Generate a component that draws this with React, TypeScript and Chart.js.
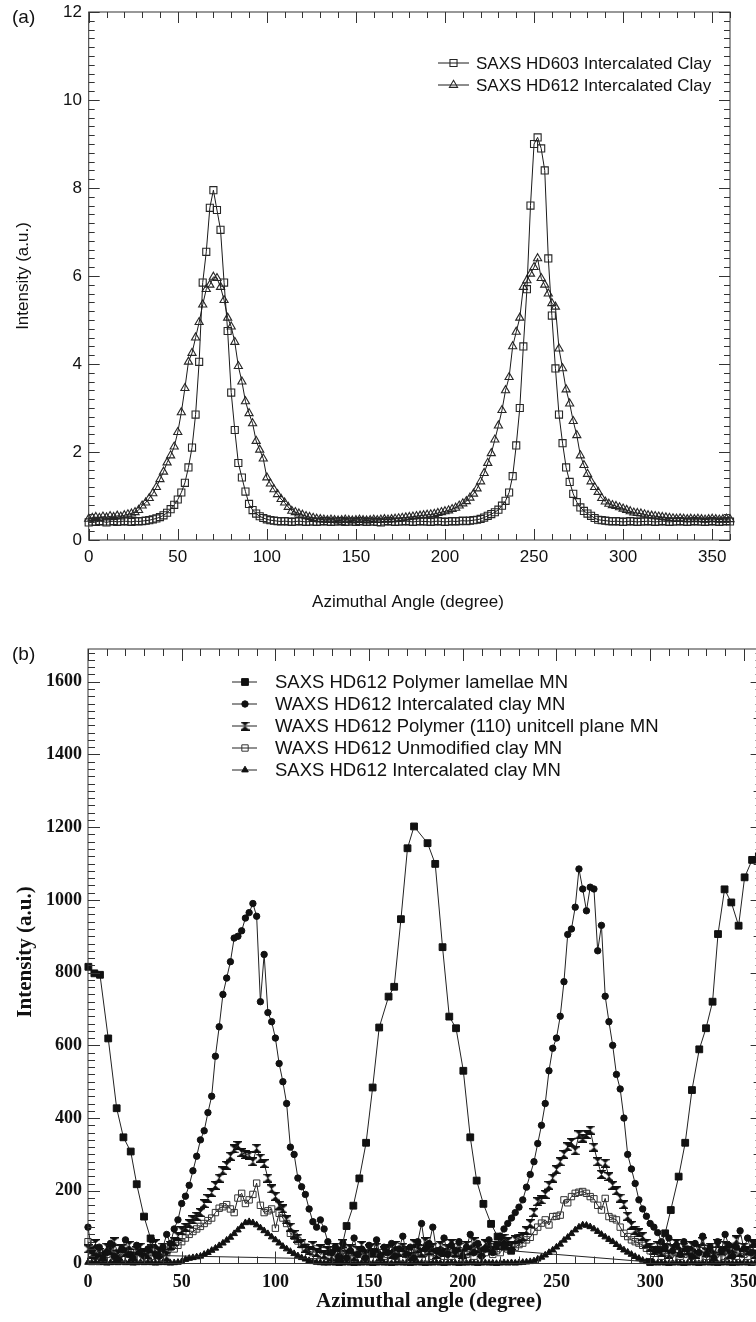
import React, { useEffect, useRef } from 'react';
import { Chart, registerables } from 'chart.js';

Chart.register(...registerables);

// ---------------- DATA ----------------
// Sampled azimuthal angles (degree) for the dense scans
const ANGLES = [0,2,4,6,8,10,12,14,16,18,20,22,24,26,28,30,32,34,36,38,40,42,44,46,48,50,52,54,56,58,60,62,64,66,68,70,72,74,76,78,80,82,84,86,88,90,92,94,96,98,100,102,104,106,108,110,112,114,116,118,120,122,124,126,128,130,132,134,136,138,140,142,144,146,148,150,152,154,156,158,160,162,164,166,168,170,172,174,176,178,180,182,184,186,188,190,192,194,196,198,200,202,204,206,208,210,212,214,216,218,220,222,224,226,228,230,232,234,236,238,240,242,244,246,248,250,252,254,256,258,260,262,264,266,268,270,272,274,276,278,280,282,284,286,288,290,292,294,296,298,300,302,304,306,308,310,312,314,316,318,320,322,324,326,328,330,332,334,336,338,340,342,344,346,348,350,352,354,356,358,360];

// (a) SAXS HD603 Intercalated Clay
const A_HD603 = [
  0.40,0.42,0.41,0.43,0.42,0.40,0.42,0.43,0.41,0.42,0.43,0.42,0.41,0.43,0.42,0.43,
  0.44,0.45,0.47,0.49,0.52,0.56,0.62,0.70,0.80,0.92,1.08,1.30,1.65,2.10,2.85,4.05,
  5.85,6.55,7.55,7.95,7.50,7.05,5.85,4.75,3.35,2.50,1.75,1.42,1.10,0.82,0.68,0.60,
  0.54,0.50,0.47,0.45,0.44,0.43,0.42,0.43,0.42,0.41,0.42,0.43,0.42,0.41,0.42,0.42,
  0.41,0.42,0.43,0.42,0.41,0.42,0.42,0.43,0.41,0.42,0.42,0.41,0.43,0.42,0.41,0.42,
  0.42,0.41,0.40,0.42,0.43,0.42,0.41,0.42,0.42,0.43,0.42,0.41,0.42,0.43,0.42,0.42,
  0.41,0.42,0.43,0.42,0.41,0.42,0.43,0.42,0.43,0.44,0.43,0.44,0.45,0.46,0.48,0.51,
  0.55,0.59,0.63,0.69,0.78,0.89,1.08,1.45,2.15,3.00,4.40,5.70,7.60,9.00,9.15,8.90,
  8.40,6.40,5.10,3.90,2.85,2.20,1.65,1.32,1.05,0.86,0.74,0.66,0.60,0.55,0.50,0.46,
  0.45,0.44,0.43,0.42,0.43,0.42,0.41,0.42,0.43,0.42,0.41,0.42,0.42,0.43,0.42,0.41,
  0.42,0.43,0.42,0.41,0.42,0.42,0.43,0.42,0.41,0.42,0.43,0.42,0.42,0.41,0.42,0.43,
  0.42,0.41,0.42,0.43,0.42,
];

// (a) SAXS HD612 Intercalated Clay
const A_HD612 = [
  0.48,0.50,0.52,0.50,0.53,0.51,0.54,0.52,0.55,0.53,0.56,0.58,0.60,0.63,0.68,0.78,
  0.85,0.95,1.06,1.20,1.38,1.55,1.76,1.92,2.12,2.45,2.90,3.45,4.05,4.25,4.60,4.95,
  5.35,5.70,5.80,5.98,5.95,5.75,5.45,5.05,4.85,4.50,3.95,3.60,3.15,2.88,2.65,2.25,
  2.05,1.85,1.42,1.28,1.15,1.04,0.93,0.85,0.75,0.66,0.63,0.60,0.57,0.54,0.52,0.50,
  0.48,0.47,0.46,0.45,0.46,0.45,0.44,0.45,0.46,0.45,0.44,0.45,0.46,0.45,0.44,0.45,
  0.46,0.45,0.46,0.47,0.46,0.47,0.48,0.49,0.50,0.51,0.52,0.53,0.54,0.55,0.56,0.57,
  0.58,0.59,0.61,0.63,0.65,0.67,0.70,0.73,0.78,0.83,0.88,0.96,1.05,1.17,1.33,1.52,
  1.75,1.97,2.28,2.60,2.95,3.40,3.70,4.40,4.73,5.05,5.75,5.90,6.05,6.20,6.40,5.95,
  5.80,5.60,5.38,5.30,4.35,3.90,3.42,3.10,2.70,2.38,1.92,1.70,1.50,1.33,1.20,1.09,
  0.95,0.87,0.82,0.79,0.77,0.74,0.71,0.68,0.65,0.62,0.61,0.60,0.58,0.56,0.55,0.54,
  0.53,0.52,0.51,0.50,0.49,0.48,0.49,0.48,0.47,0.48,0.47,0.48,0.47,0.46,0.47,0.48,
  0.47,0.46,0.47,0.48,0.47,
];

// (b) SAXS HD612 Polymer lamellae MN (sparse scan)
const B_LAMELLAE_ANGLE = [0.2,3.4,6.4,10.8,15.3,18.9,22.8,26,29.9,33.4,37,134,138,141.6,144.8,148.4,151.9,155.4,160.4,163.4,167,170.5,174,181.2,185.3,189.2,192.8,196.4,200.3,204,207.4,211,215.1,218.6,222.2,225.8,300,304.4,308,311,315.2,318.7,322.3,326.2,329.8,333.3,336.2,339.7,343.3,347.2,350.4,354.4,358];
const B_LAMELLAE = [816,798,794,619,427,347,308,218,129,69,22,12,103,159,234,332,484,649,734,761,947,1142,1202,1156,1099,870,679,647,530,347,228,164,109,74,48,35,4,38,83,147,239,332,477,589,647,720,906,1029,993,929,1062,1110,1120];

// (b) WAXS HD612 Intercalated clay MN
const B_WAXS_CLAY = [
  100,35,20,45,15,30,55,20,10,40,65,25,15,50,30,20,
  40,65,25,20,45,80,55,95,120,165,185,215,255,295,340,365,
  415,460,570,651,740,785,830,895,900,915,950,965,990,955,720,850,
  690,665,620,550,500,440,320,300,235,211,190,150,115,100,120,95,
  60,30,45,20,55,15,35,70,25,40,15,50,30,65,20,45,
  30,55,20,40,75,25,45,15,60,110,40,55,100,35,30,70,
  25,50,35,60,20,45,80,30,55,20,40,65,30,50,75,95,
  110,125,140,155,175,210,245,280,330,380,440,530,592,620,680,775,
  905,920,980,1085,1030,970,1035,1030,860,930,735,665,600,520,480,400,
  300,260,220,175,150,130,110,100,85,60,45,70,35,50,25,60,
  40,20,55,30,75,25,45,15,60,35,80,50,20,45,90,40,
  70,30,55,25,60,
];

// (b) WAXS HD612 Polymer (110) unitcell plane MN
const B_WAXS_110 = [
  40,25,55,30,20,45,35,60,25,40,30,50,20,35,45,30,
  25,40,55,30,45,20,50,60,75,90,100,110,120,130,140,165,
  179,195,215,235,255,270,295,315,325,305,300,298,280,317,290,275,
  235,205,185,160,150,120,100,80,70,55,42,35,50,30,40,25,
  35,20,45,30,55,25,40,20,35,50,25,40,30,45,20,35,
  40,25,50,30,45,35,20,55,40,30,60,35,45,25,50,30,
  40,55,30,45,25,50,35,60,40,30,55,45,35,50,60,70,
  60,50,65,70,74,90,110,140,170,175,190,215,235,258,280,300,
  321,333,310,354,345,355,367,320,280,245,276,239,215,200,180,162,
  130,105,92,85,75,56,45,35,50,30,45,25,40,55,30,45,
  35,50,25,40,60,30,45,20,55,35,50,25,40,65,30,45,
  35,55,25,45,40,
];

// (b) WAXS HD612 Unmodified clay MN
const B_WAXS_UNMOD = [
  60,35,20,30,15,25,40,20,30,15,35,25,20,30,15,25,
  30,20,35,25,15,30,45,40,50,60,70,80,88,95,102,110,
  118,125,140,152,156,162,150,140,180,193,165,175,190,221,160,140,
  145,150,97,138,125,110,83,75,62,52,45,35,30,40,25,35,
  20,30,15,25,35,20,30,15,25,35,20,30,25,15,30,20,
  25,35,20,30,15,25,30,20,35,25,15,30,20,25,35,20,
  30,20,25,35,15,25,30,20,35,25,30,40,25,35,30,45,
  40,50,45,52,56,65,72,88,100,111,120,106,129,130,133,175,
  167,184,193,196,198,193,184,178,160,147,179,129,124,120,100,83,
  74,65,60,56,50,42,35,28,35,20,30,25,15,30,20,25,
  30,20,25,15,35,20,30,25,15,30,20,35,25,20,30,25,
  20,30,25,15,25,
];

// (b) SAXS HD612 Intercalated clay MN
const B_SAXS_CLAY = [
  3,2,4,2,3,1,2,3,2,4,2,3,1,2,3,2,
  3,2,1,2,3,2,1,2,3,5,11,14,16,18,20,25,
  30,36,42,49,56,64,72,82,92,102,112,115,112,106,98,90,
  82,73,65,56,47,40,33,27,21,16,12,8,5,3,2,1,
  1,2,1,0,1,2,1,0,1,1,2,1,0,1,2,1,
  1,0,1,2,1,1,0,1,2,1,0,1,1,2,1,0,
  1,2,1,0,1,1,2,1,0,1,2,1,1,0,1,2,
  1,2,1,2,3,4,5,7,12,17,23,30,37,45,53,64,
  72,82,92,100,106,105,101,95,88,80,73,66,60,52,44,37,
  31,25,19,14,9,5,3,2,1,2,1,0,1,2,1,0,
  1,2,1,0,1,2,1,1,0,1,2,1,0,1,1,2,
  1,0,1,2,1,
];

// Tick values / labels
const X_TICKS = [0, 50, 100, 150, 200, 250, 300, 350];
const X_TICK_LABELS = ['0', '50', '100', '150', '200', '250', '300', '350'];
const A_Y_TICKS = [0, 2, 4, 6, 8, 10, 12];
const A_Y_TICK_LABELS = ['0', '2', '4', '6', '8', '10', '12'];
const B_Y_TICKS = [0, 200, 400, 600, 800, 1000, 1200, 1400, 1600];
const B_Y_TICK_LABELS = ['0', '200', '400', '600', '800', '1000', '1200', '1400', '1600'];

const A_LEGEND = ['SAXS HD603 Intercalated Clay', 'SAXS HD612 Intercalated Clay'];
const B_LEGEND = [
  'SAXS HD612 Polymer lamellae MN',
  'WAXS HD612 Intercalated clay MN',
  'WAXS HD612 Polymer (110) unitcell plane MN',
  'WAXS HD612 Unmodified clay MN',
  'SAXS HD612 Intercalated clay MN',
];

// ---------------- HELPERS ----------------
const SANS = '"Liberation Sans", Arial, Helvetica, sans-serif';
const SERIF = '"Liberation Serif", "Times New Roman", Times, serif';

function makeHourglass(): HTMLCanvasElement {
  const c = document.createElement('canvas');
  c.width = 9;
  c.height = 9;
  const g = c.getContext('2d')!;
  g.fillStyle = '#111';
  g.beginPath();
  g.moveTo(0.5, 0.8); g.lineTo(8.5, 0.8); g.lineTo(4.5, 4.5); g.closePath(); g.fill();
  g.beginPath();
  g.moveTo(0.5, 8.2); g.lineTo(8.5, 8.2); g.lineTo(4.5, 4.5); g.closePath(); g.fill();
  g.fillRect(0, 0, 9, 1.3);
  g.fillRect(0, 7.7, 9, 1.3);
  return c;
}

function drawMarker(ctx: CanvasRenderingContext2D, style: any, x: number, y: number, r: number, fill: string, stroke: string, bw: number) {
  if (style && typeof style === 'object' && 'width' in style) {
    ctx.drawImage(style, x - style.width / 2, y - style.height / 2, style.width, style.height);
    return;
  }
  ctx.beginPath();
  if (style === 'rect') {
    const s = r * Math.SQRT1_2;
    ctx.rect(x - s, y - s, 2 * s, 2 * s);
  } else if (style === 'triangle') {
    ctx.moveTo(x, y - r);
    ctx.lineTo(x + 0.866 * r, y + 0.5 * r);
    ctx.lineTo(x - 0.866 * r, y + 0.5 * r);
    ctx.closePath();
  } else {
    ctx.arc(x, y, r, 0, Math.PI * 2);
  }
  ctx.fillStyle = fill;
  ctx.fill();
  ctx.lineWidth = bw;
  ctx.strokeStyle = stroke;
  ctx.stroke();
}

type PanelCfg = {
  id: string;
  xMax: number; xMinorStep: number;
  yMax: number; yMinorStep: number; yRightMidStep?: number;
  yTicks: number[]; yTickLabels: string[];
  majorLen: number; minorLen: number; midLen: number;
  axisColor: string;
  tickFont: string; xLabelY: number; yLabelRight: number;
  titleFont: string;
  xTitle: string; xTitleX: number; xTitleY: number;
  yTitle: string; yTitleX: number; yTitleY: number;
  panelLabel: string; panelFont: string; panelX: number; panelY: number;
  legendLabels: string[]; legendFont: string; legendRows: number[];
  legendLine0: number; legendLine1: number; legendMark: number; legendText: number;
};

function panelPlugin(cfg: PanelCfg) {
  return {
    id: cfg.id,
    afterDraw(chart: any) {
      const { ctx, chartArea: a } = chart;
      const xs = chart.scales.x;
      const ys = chart.scales.y;
      ctx.save();
      ctx.strokeStyle = cfg.axisColor;
      ctx.lineWidth = 1;
      ctx.strokeRect(a.left, a.top, a.right - a.left, a.bottom - a.top);

      ctx.beginPath();
      const nx = Math.round(cfg.xMax / cfg.xMinorStep);
      for (let i = 0; i <= nx; i++) {
        const v = i * cfg.xMinorStep;
        const px = Math.round(xs.getPixelForValue(v)) + 0.5;
        const major = X_TICKS.indexOf(v) >= 0;
        const len = major ? cfg.majorLen : cfg.minorLen;
        ctx.moveTo(px, a.bottom); ctx.lineTo(px, a.bottom - len);
        ctx.moveTo(px, a.top); ctx.lineTo(px, a.top + len);
      }
      const ny = Math.floor(cfg.yMax / cfg.yMinorStep + 1e-6);
      for (let i = 0; i <= ny; i++) {
        const v = +(i * cfg.yMinorStep).toFixed(4);
        const py = Math.round(ys.getPixelForValue(v)) + 0.5;
        const major = cfg.yTicks.some((t) => Math.abs(t - v) < 1e-6);
        const lenL = major ? cfg.majorLen : cfg.minorLen;
        ctx.moveTo(a.left, py); ctx.lineTo(a.left + lenL, py);
        let lenR = lenL;
        if (!major && cfg.yRightMidStep) {
          const r = v / cfg.yRightMidStep;
          if (Math.abs(r - Math.round(r)) < 1e-6) lenR = cfg.midLen;
        }
        ctx.moveTo(a.right, py); ctx.lineTo(a.right - lenR, py);
      }
      ctx.stroke();

      // tick labels
      ctx.fillStyle = '#111';
      ctx.font = cfg.tickFont;
      ctx.textAlign = 'center';
      ctx.textBaseline = 'middle';
      X_TICKS.forEach((v, i) => {
        ctx.fillText(X_TICK_LABELS[i], xs.getPixelForValue(v), cfg.xLabelY);
      });
      ctx.textAlign = 'right';
      cfg.yTicks.forEach((v, i) => {
        ctx.fillText(cfg.yTickLabels[i], cfg.yLabelRight, ys.getPixelForValue(v));
      });

      // titles
      ctx.font = cfg.titleFont;
      ctx.textAlign = 'center';
      ctx.fillText(cfg.xTitle, cfg.xTitleX, cfg.xTitleY);
      ctx.save();
      ctx.translate(cfg.yTitleX, cfg.yTitleY);
      ctx.rotate(-Math.PI / 2);
      ctx.fillText(cfg.yTitle, 0, 0);
      ctx.restore();

      // panel label
      ctx.font = cfg.panelFont;
      ctx.textAlign = 'left';
      ctx.fillText(cfg.panelLabel, cfg.panelX, cfg.panelY);

      // legend
      ctx.font = cfg.legendFont;
      cfg.legendLabels.forEach((label, i) => {
        const ds = chart.data.datasets[i];
        const y = cfg.legendRows[i];
        ctx.beginPath();
        ctx.strokeStyle = ds.borderColor;
        ctx.lineWidth = ds.borderWidth;
        ctx.moveTo(cfg.legendLine0, y);
        ctx.lineTo(cfg.legendLine1, y);
        ctx.stroke();
        drawMarker(ctx, ds.pointStyle, cfg.legendMark, y, ds.pointRadius, ds.pointBackgroundColor, ds.pointBorderColor, ds.pointBorderWidth);
        ctx.fillStyle = '#111';
        ctx.textAlign = 'left';
        ctx.textBaseline = 'middle';
        ctx.fillText(label, cfg.legendText, y + 1);
      });
      ctx.restore();
    },
  };
}

function pts(xs: number[], ys: number[]) {
  return xs.map((x, i) => ({ x, y: ys[i] }));
}

// ---------------- COMPONENT ----------------
export default function App() {
  const topRef = useRef<HTMLCanvasElement>(null);
  const botRef = useRef<HTMLCanvasElement>(null);

  useEffect(() => {
    const hourglass = makeHourglass();
    const lineBase = { showLine: true, tension: 0, borderWidth: 1, clip: false as any, pointBorderWidth: 1 };

    const top = new Chart(topRef.current!, {
      type: 'line',
      data: {
        datasets: [
          {
            ...lineBase,
            label: A_LEGEND[0],
            data: pts(ANGLES, A_HD603),
            borderColor: '#1a1a1a',
            pointStyle: 'rect',
            pointRadius: 5,
            pointBorderWidth: 1.1,
            pointBackgroundColor: 'rgba(255,255,255,0)',
            pointBorderColor: '#262626',
          },
          {
            ...lineBase,
            label: A_LEGEND[1],
            data: pts(ANGLES, A_HD612),
            borderColor: '#1a1a1a',
            pointStyle: 'triangle',
            pointRadius: 4.7,
            pointBorderWidth: 1.1,
            pointBackgroundColor: 'rgba(255,255,255,0)',
            pointBorderColor: '#262626',
          },
        ] as any,
      },
      options: {
        responsive: false,
        animation: false,
        events: [],
        layout: { padding: { left: 88.7, right: 26, top: 12, bottom: 80 } },
        scales: {
          x: { type: 'linear', min: 0, max: 360, display: false },
          y: { type: 'linear', min: 0, max: 12, display: false },
        },
        plugins: { legend: { display: false }, tooltip: { enabled: false } },
      },
      plugins: [
        panelPlugin({
          id: 'panelA',
          xMax: 360, xMinorStep: 10,
          yMax: 12, yMinorStep: 0.2,
          yTicks: A_Y_TICKS, yTickLabels: A_Y_TICK_LABELS,
          majorLen: 11, minorLen: 6, midLen: 6,
          axisColor: '#333',
          tickFont: '17px ' + SANS, xLabelY: 557, yLabelRight: 82,
          titleFont: '17px ' + SANS,
          xTitle: 'Azimuthal Angle (degree)', xTitleX: 408, xTitleY: 602,
          yTitle: 'Intensity (a.u.)', yTitleX: 23, yTitleY: 276,
          panelLabel: '(a)', panelFont: '19px ' + SANS, panelX: 12, panelY: 18,
          legendLabels: A_LEGEND, legendFont: '17px ' + SANS, legendRows: [63, 85],
          legendLine0: 438, legendLine1: 469, legendMark: 453.5, legendText: 476,
        }) as any,
      ],
    });

    const bot = new Chart(botRef.current!, {
      type: 'line',
      data: {
        datasets: [
          {
            ...lineBase,
            label: B_LEGEND[0],
            data: pts(B_LAMELLAE_ANGLE, B_LAMELLAE),
            borderColor: '#222',
            pointStyle: 'rect',
            pointRadius: 4.8,
            pointBackgroundColor: '#111',
            pointBorderColor: '#111',
          },
          {
            ...lineBase,
            label: B_LEGEND[1],
            data: pts(ANGLES, B_WAXS_CLAY),
            borderColor: '#222',
            pointStyle: 'circle',
            pointRadius: 3.2,
            pointBackgroundColor: '#111',
            pointBorderColor: '#111',
          },
          {
            ...lineBase,
            label: B_LEGEND[2],
            data: pts(ANGLES, B_WAXS_110),
            borderColor: '#222',
            pointStyle: hourglass,
            pointRadius: 4.5,
            pointBackgroundColor: '#111',
            pointBorderColor: '#111',
          },
          {
            ...lineBase,
            label: B_LEGEND[3],
            data: pts(ANGLES, B_WAXS_UNMOD),
            borderColor: '#222',
            pointStyle: 'rect',
            pointRadius: 4.5,
            pointBackgroundColor: 'rgba(255,255,255,0)',
            pointBorderColor: '#333',
          },
          {
            ...lineBase,
            label: B_LEGEND[4],
            data: pts(ANGLES, B_SAXS_CLAY),
            borderColor: '#222',
            pointStyle: 'triangle',
            pointRadius: 3.8,
            pointBackgroundColor: '#111',
            pointBorderColor: '#111',
          },
        ] as any,
      },
      options: {
        responsive: false,
        animation: false,
        events: [],
        layout: { padding: { left: 88, right: 27.4, top: 19, bottom: 58.5 } },
        scales: {
          x: { type: 'linear', min: 0, max: 360, display: false },
          y: { type: 'linear', min: 0, max: 1690, display: false },
        },
        plugins: { legend: { display: false }, tooltip: { enabled: false } },
      },
      plugins: [
        panelPlugin({
          id: 'panelB',
          xMax: 360, xMinorStep: 10,
          yMax: 1690, yMinorStep: 20, yRightMidStep: 100,
          yTicks: B_Y_TICKS, yTickLabels: B_Y_TICK_LABELS,
          majorLen: 12, minorLen: 7, midLen: 9,
          axisColor: '#333',
          tickFont: 'bold 18px ' + SERIF, xLabelY: 652, yLabelRight: 82,
          titleFont: 'bold 21px ' + SERIF,
          xTitle: 'Azimuthal angle (degree)', xTitleX: 429, xTitleY: 672,
          yTitle: 'Intensity (a.u.)', yTitleX: 26, yTitleY: 322,
          panelLabel: '(b)', panelFont: '19px ' + SANS, panelX: 12, panelY: 25,
          legendLabels: B_LEGEND, legendFont: '18.5px ' + SANS, legendRows: [52, 74, 96, 118, 140],
          legendLine0: 232, legendLine1: 257, legendMark: 245, legendText: 275,
        }) as any,
      ],
    });

    return () => {
      top.destroy();
      bot.destroy();
    };
  }, []);

  return (
    <div style={{ position: 'fixed', left: 0, top: 0, width: 756, height: 1322, overflow: 'hidden', background: '#fff' }}>
      <canvas ref={topRef} width={756} height={620} style={{ position: 'absolute', left: 0, top: 0, width: 756, height: 620 }} />
      <canvas ref={botRef} width={790} height={692} style={{ position: 'absolute', left: 0, top: 630, width: 790, height: 692 }} />
    </div>
  );
}
